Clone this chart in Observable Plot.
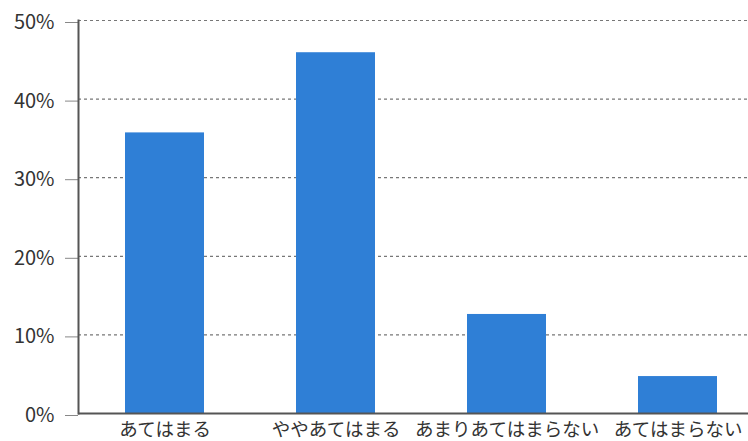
<!DOCTYPE html>
<html>
<head>
<meta charset="utf-8">
<script src="https://cdn.jsdelivr.net/npm/d3@7"></script>
<script src="https://cdn.jsdelivr.net/npm/@observablehq/plot@0.6"></script>
<style>
  html, body { margin: 0; padding: 0; background: #fff; overflow: hidden; }
</style>
</head>
<body>
<div id="chart"></div>
<script>
const categories = ["あてはまる", "ややあてはまる", "あまりあてはまらない", "あてはまらない"];
const values = [35.7, 45.9, 12.6, 4.7];
const yTicks = [0, 10, 20, 30, 40, 50];

const data = categories.map((c, i) => ({category: c, value: values[i]}));

const chart = Plot.plot({
  width: 748,
  height: 441,
  marginLeft: 78,
  marginRight: 0,
  marginTop: 20,
  marginBottom: 28,
  style: {fontFamily: "'Noto Sans CJK JP', 'Noto Sans', sans-serif", background: "#fff"},
  x: {domain: categories, range: [78, 763], paddingInner: 0.54, paddingOuter: 0.27, label: null},
  y: {domain: [0, 50], label: null},
  marks: [
    Plot.ruleY(yTicks.filter(d => d > 0), {stroke: "#777", strokeWidth: 1.2, strokeDasharray: "3,3"}),
    Plot.barY(data, {x: "category", y: "value", fill: "#2f7fd6"}),
    Plot.axisY({ticks: yTicks, tickFormat: d => d + "%", tickSize: 13, tickPadding: 11,
      fontSize: 20, stroke: "#888", color: "#333", label: null, dy: 2}),
    Plot.axisX({tickSize: 0, tickPadding: 9, fontSize: 18.5, color: "#333", label: null}),
    Plot.frame({anchor: "left", stroke: "#555", strokeWidth: 2}),
    Plot.ruleY([0], {stroke: "#555", strokeWidth: 2})
  ]
});
document.getElementById("chart").appendChild(chart);
</script>
</body>
</html>
